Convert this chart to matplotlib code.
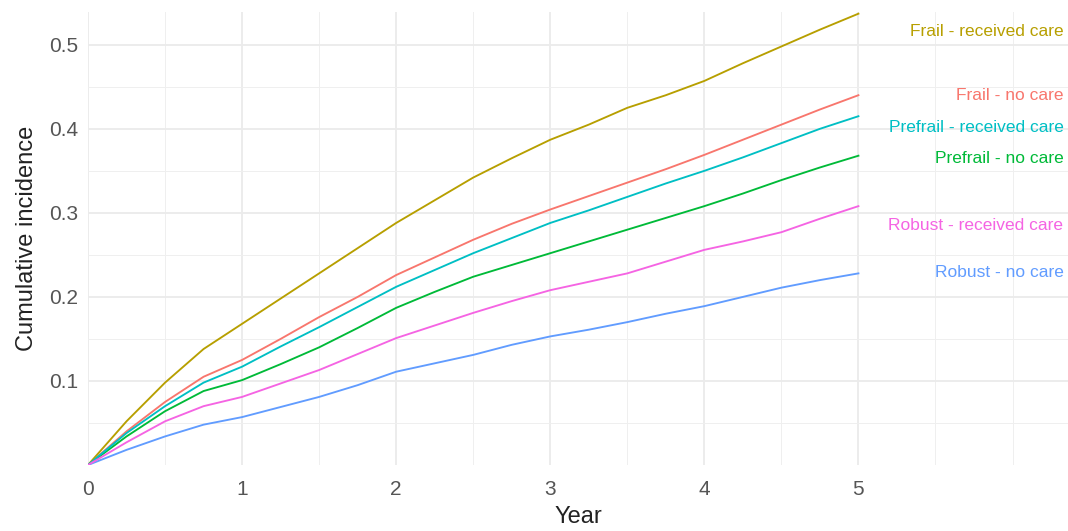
import matplotlib
matplotlib.use("Agg")
import matplotlib.pyplot as plt
import numpy as np

plt.rcParams['font.family'] = ['Liberation Sans', 'DejaVu Sans']

years = [0, 0.25, 0.5, 0.75, 1, 1.25, 1.5, 1.75, 2, 2.25, 2.5, 2.75,
         3, 3.25, 3.5, 3.75, 4, 4.25, 4.5, 4.75, 5]

frail_received = [0, 0.052, 0.098, 0.138, 0.168, 0.198, 0.228, 0.258, 0.288, 0.315, 0.342,
                  0.365, 0.387, 0.405, 0.425, 0.440, 0.457, 0.478, 0.498, 0.518, 0.537]
frail_nocare = [0, 0.040, 0.075, 0.105, 0.125, 0.150, 0.176, 0.200, 0.226, 0.247, 0.268,
                0.287, 0.304, 0.320, 0.336, 0.352, 0.369, 0.387, 0.405, 0.423, 0.440]
prefrail_received = [0, 0.038, 0.070, 0.098, 0.117, 0.141, 0.164, 0.188, 0.212, 0.232, 0.252,
                     0.270, 0.288, 0.303, 0.319, 0.335, 0.350, 0.366, 0.383, 0.400, 0.415]
prefrail_nocare = [0, 0.034, 0.064, 0.088, 0.101, 0.120, 0.140, 0.163, 0.187, 0.206, 0.224,
                   0.238, 0.252, 0.266, 0.280, 0.294, 0.308, 0.323, 0.339, 0.354, 0.368]
robust_received = [0, 0.027, 0.052, 0.070, 0.081, 0.097, 0.113, 0.132, 0.151, 0.166, 0.181,
                   0.195, 0.208, 0.218, 0.228, 0.242, 0.256, 0.266, 0.277, 0.293, 0.308]
robust_nocare = [0, 0.018, 0.034, 0.048, 0.057, 0.069, 0.081, 0.095, 0.111, 0.121, 0.131,
                 0.143, 0.153, 0.161, 0.170, 0.180, 0.189, 0.200, 0.211, 0.220, 0.228]

series_names = ["Frail - no care", "Frail - received care", "Prefrail - no care",
                "Prefrail - received care", "Robust - no care", "Robust - received care"]
series_values = [frail_nocare, frail_received, prefrail_nocare,
                 prefrail_received, robust_nocare, robust_received]
series_colors = ["#F8766D", "#B79F00", "#00BA38", "#00BFC4", "#619CFF", "#F564E3"]
label_y = [0.440, 0.516, 0.365, 0.401, 0.229, 0.285]

x_ticks = [0, 1, 2, 3, 4, 5]
y_ticks = [0.1, 0.2, 0.3, 0.4, 0.5]

fig = plt.figure(figsize=(10.68, 5.31), dpi=100)
ax = fig.add_axes([88/1068, 66/531, (1068-88)/1068, (465-12)/531])

for name, vals, col, ly in zip(series_names, series_values, series_colors, label_y):
    ax.plot(years, vals, color=col, lw=1.35, solid_joinstyle='round')
    ax.text(6.33, ly, name, color=col, fontsize=12.5, ha='right', va='center')

ax.set_xlim(0, 6.36)
ax.set_ylim(0, 0.539)
ax.set_xticks(x_ticks)
ax.set_xticks([0.5, 1.5, 2.5, 3.5, 4.5, 5.5, 6.0], minor=True)
ax.set_yticks(y_ticks)
ax.set_yticks([0, 0.05, 0.15, 0.25, 0.35, 0.45], minor=True)
ax.grid(which='major', color='#EBEBEB', lw=1.3)
ax.grid(which='minor', color='#EFEFEF', lw=0.7)
ax.set_axisbelow(True)
for s in ax.spines.values():
    s.set_visible(False)
ax.tick_params(which='both', length=0)
ax.tick_params(axis='y', labelsize=15, labelcolor='#555555', pad=7)
ax.tick_params(axis='x', labelsize=15, labelcolor='#555555', pad=11)
ax.set_xlabel("Year", fontsize=17, labelpad=5, color='#222222')
ax.set_ylabel("Cumulative incidence", fontsize=17, labelpad=8, color='#222222')

fig.savefig("out.png", dpi=100)
